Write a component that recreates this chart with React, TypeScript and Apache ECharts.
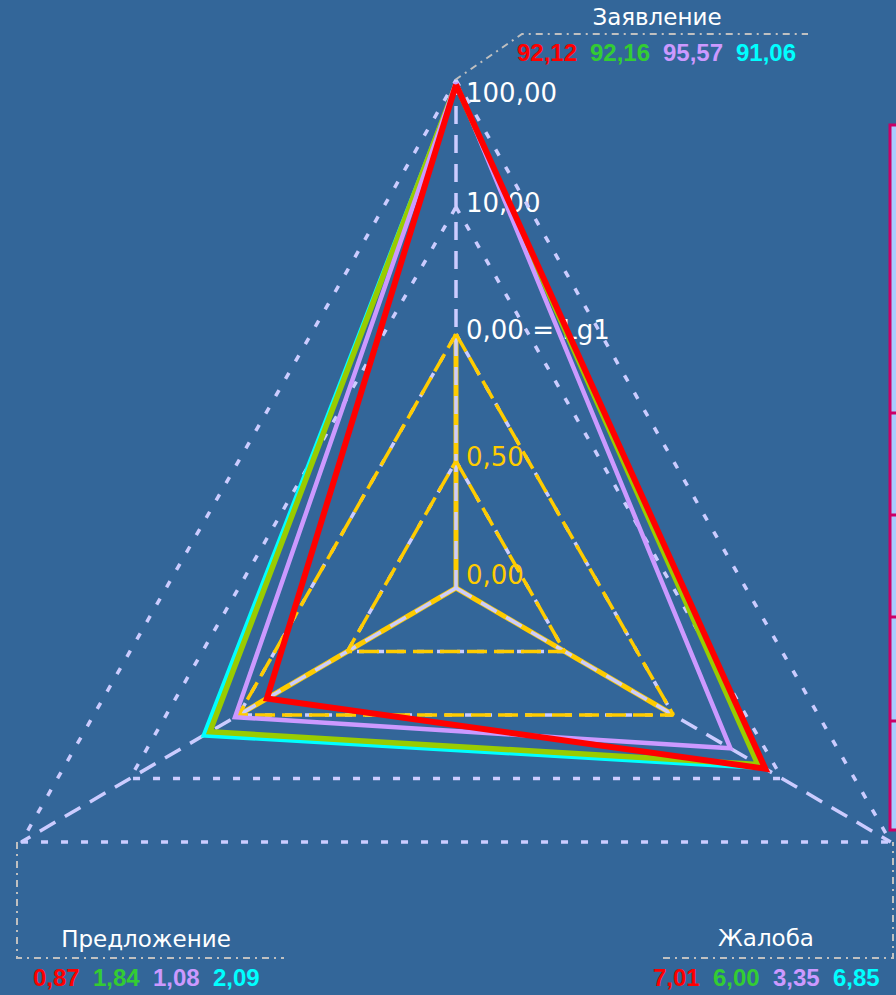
import React, { useEffect, useRef } from 'react';
import * as echarts from 'echarts';

// ---------- data ----------
const CATEGORIES = ['Заявление', 'Жалоба', 'Предложение'];
const SERIES_NAMES = ['Ряд 1', 'Ряд 2', 'Ряд 3', 'Ряд 4'];
const RED_VALUES = [92.12, 7.01, 0.87];
const GREEN_VALUES = [92.16, 6.0, 1.84];
const LAVENDER_VALUES = [95.57, 3.35, 1.08];
const CYAN_VALUES = [91.06, 6.85, 2.09];
const TICK_VALUES = [0, 0.5, 1, 10, 100];
const TICK_LABELS = ['0,00', '0,50', '0,00 = Lg1', '10,00', '100,00'];
const LOG_LEVELS = [10, 100];
const LIN_LEVELS = [0.5, 1];
const MAX_VALUE = 100;

// ---------- layout / style ----------
const W = 896;
const H = 995;
const CX = 456;
const CY = 588;
const UX = 125.5;
const UY = 127;
const AXIS_ANGLES = [90, -30, 210];
const BG = '#336699';
const LAV = '#ccccff';
const YEL = '#ffcc00';
const SERIES_COLORS = ['#ff0000', '#99cc00', '#cc99ff', '#00ffff'];
const TEXT_COLORS = ['#ff0000', '#33cc33', '#cc99ff', '#00ffff'];

// piecewise scale: linear on [0,1], log10 above 1
const toR = (v: number) => (v <= 1 ? 2 * v : 2 + Math.log10(v));
const pt = (i: number, v: number) => {
  const a = (AXIS_ANGLES[i] * Math.PI) / 180;
  const r = toR(v);
  return [r * Math.cos(a), r * Math.sin(a)];
};
const ring = (vals: number[]) => {
  const p = vals.map((v, i) => pt(i, v));
  return [...p, p[0]];
};
const fmt = (v: number) => v.toFixed(2).replace('.', ',');

export default function App() {
  const ref = useRef<HTMLDivElement>(null);
  useEffect(() => {
    document.body.style.margin = '0';
    const chart = echarts.init(ref.current!, undefined, { renderer: 'svg' });

    const lineBase = {
      type: 'line',
      symbol: 'none',
      silent: true,
      animation: false,
      clip: false,
    };

    const series: any[] = [];
    // lavender dotted level triangles
    [...LIN_LEVELS, ...LOG_LEVELS].forEach((lv) => {
      series.push({
        ...lineBase,
        data: ring([lv, lv, lv]),
        lineStyle: { color: LAV, width: 3.5, type: [7, 13], cap: 'butt' },
      });
    });
    // yellow solid axis part (0..1)
    CATEGORIES.forEach((_, i) => {
      series.push({
        ...lineBase,
        data: [pt(i, 0), pt(i, 1)],
        lineStyle: { color: YEL, width: 5 },
      });
    });
    // lavender dashed axes (0..100)
    CATEGORIES.forEach((_, i) => {
      series.push({
        ...lineBase,
        data: [pt(i, 0), pt(i, MAX_VALUE)],
        lineStyle: { color: LAV, width: 3.5, type: [18, 11] },
      });
    });
    // yellow dashed inner triangles
    LIN_LEVELS.forEach((lv) => {
      series.push({
        ...lineBase,
        data: ring([lv, lv, lv]),
        lineStyle: { color: YEL, width: 3.5, type: [20, 7] },
      });
    });
    // data polygons (drawn cyan, green, lavender, red)
    const dataSets = [RED_VALUES, GREEN_VALUES, LAVENDER_VALUES, CYAN_VALUES];
    const widths = [6, 5.5, 4.5, 4.5];
    [3, 1, 2, 0].forEach((k) => {
      series.push({
        ...lineBase,
        name: SERIES_NAMES[k],
        data: ring(dataSets[k]),
        lineStyle: { color: SERIES_COLORS[k], width: widths[k], join: 'miter', miterLimit: 20 },
      });
    });
    // tick labels on vertical axis
    const labelOffsets = [-13, -4, -4, -4, 13];
    series.push({
      type: 'scatter',
      silent: true,
      symbolSize: 0,
      itemStyle: { opacity: 1 },
      data: TICK_VALUES.map((v, j) => ({
        value: pt(0, v),
        label: {
          show: true,
          position: 'right',
          distance: 10,
          offset: [0, labelOffsets[j]],
          formatter: TICK_LABELS[j],
          color: j < 2 ? YEL : '#ffffff',
          opacity: 1,
          fontFamily: 'DejaVu Sans',
          fontSize: 26,
        },
      })),
    });

    // category labels and values
    const catPos = [
      { x: 657, y: 17, vx: 517, vy: 52, step: 73 },
      { x: 766, y: 938, vx: 653, vy: 977, step: 60 },
      { x: 146, y: 939, vx: 33, vy: 977, step: 60 },
    ];
    const graphic: any[] = [];
    // leader lines
    const leader = { stroke: '#c0c0c0', lineWidth: 2, lineDash: [7, 5, 2, 5], fill: null };
    graphic.push({ type: 'polyline', shape: { points: [[455, 80], [522, 34], [808, 34]] }, style: leader, silent: true });
    graphic.push({ type: 'polyline', shape: { points: [[17, 842], [17, 958], [284, 958]] }, style: leader, silent: true });
    graphic.push({ type: 'polyline', shape: { points: [[663, 958], [893, 958], [893, 842]] }, style: leader, silent: true });

    CATEGORIES.forEach((c, i) => {
      const p = catPos[i];
      graphic.push({
        type: 'text',
        x: p.x,
        y: p.y,
        silent: true,
        style: {
          text: c,
          fill: '#ffffff',
          fontFamily: 'DejaVu Sans',
          fontSize: 23,
          align: 'center',
          verticalAlign: 'middle',
        },
      });
      dataSets.forEach((ds, k) => {
        graphic.push({
          type: 'text',
          x: p.vx + k * p.step,
          y: p.vy,
          silent: true,
          style: {
            text: fmt(ds[i]),
            fill: TEXT_COLORS[k],
            fontFamily: 'Liberation Sans, Arial',
            fontWeight: 'bold',
            fontSize: 24,
            align: 'left',
            verticalAlign: 'middle',
          },
        });
      });
    });

    // clipped legend box on the right edge
    graphic.push({
      type: 'rect',
      silent: true,
      shape: { x: 890, y: 125, width: 20, height: 705 },
      style: { fill: '#aaccff', stroke: '#cc0066', lineWidth: 3 },
    });
    [413, 515, 617, 721].forEach((yy) => {
      graphic.push({
        type: 'line',
        silent: true,
        shape: { x1: 890, y1: yy, x2: 896, y2: yy },
        style: { stroke: '#cc0066', lineWidth: 3 },
      });
    });

    chart.setOption({
      animation: false,
      backgroundColor: BG,
      grid: { left: 0, right: 0, top: 0, bottom: 0, containLabel: false },
      xAxis: { type: 'value', min: -CX / UX, max: (W - CX) / UX, show: false },
      yAxis: { type: 'value', min: -(H - CY) / UY, max: CY / UY, show: false },
      series,
      graphic,
    });
    return () => chart.dispose();
  }, []);
  return <div ref={ref} style={{ width: W, height: H }} />;
}
